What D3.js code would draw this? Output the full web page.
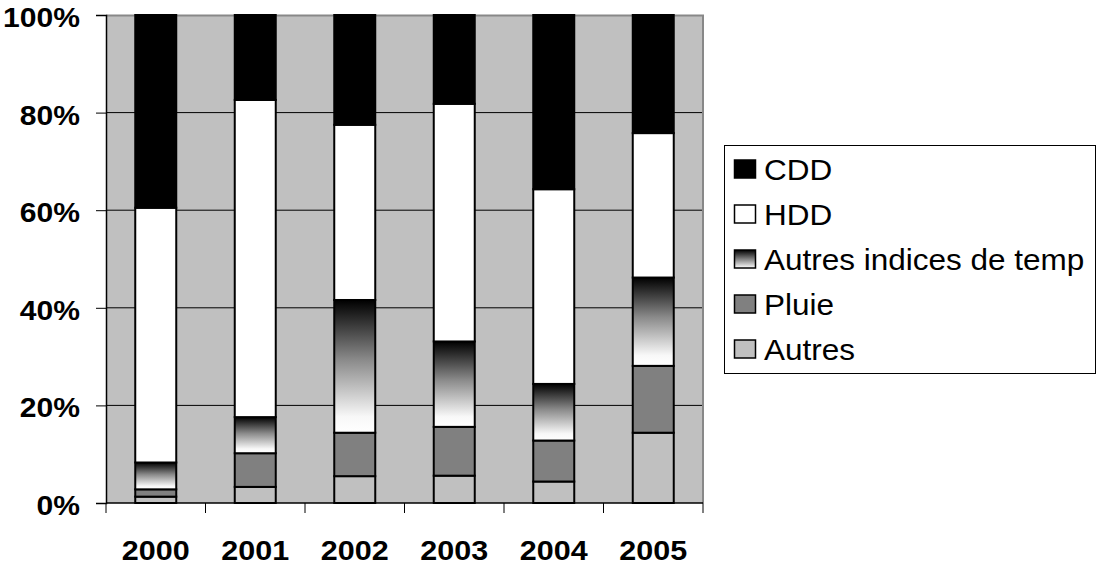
<!DOCTYPE html>
<html><head><meta charset="utf-8">
<script src="https://cdn.jsdelivr.net/npm/d3@7/dist/d3.min.js"></script>
<style>body{margin:0;background:#fff}svg{display:block}text{font-family:"Liberation Sans",Arial,sans-serif}</style>
</head><body><svg id="c" width="1099" height="567"></svg>
<script>
const years = ["2000","2001","2002","2003","2004","2005"];
const seriesNames = ["Autres","Pluie","Autres indices de temp","HDD","CDD"];
const autres = [1.3, 3.3, 5.5, 5.6, 4.4, 14.4];
const pluie = [1.5, 6.9, 8.9, 10.0, 8.4, 13.7];
const autresIndices = [5.5, 7.4, 27.2, 17.5, 11.6, 18.1];
const hdd = [52.2, 65.0, 35.9, 48.7, 39.9, 29.6];
const cdd = [39.5, 17.4, 22.5, 18.2, 35.7, 24.2];
const yTicks = [0, 20, 40, 60, 80, 100];
const legendOrder = ["CDD","HDD","Autres indices de temp","Pluie","Autres"];

const fills = {"Autres":"#c0c0c0","Pluie":"#808080","Autres indices de temp":"url(#grad)","HDD":"#ffffff","CDD":"#000000"};
const values = {"Autres":autres,"Pluie":pluie,"Autres indices de temp":autresIndices,"HDD":hdd,"CDD":cdd};

const svg = d3.select("#c");
const defs = svg.append("defs");
const g1 = defs.append("linearGradient").attr("id","grad").attr("x1",0).attr("y1",0).attr("x2",0).attr("y2",1);
g1.append("stop").attr("offset","0").attr("stop-color","#000");
g1.append("stop").attr("offset","0.45").attr("stop-color","#8a8a8a");
g1.append("stop").attr("offset","0.88").attr("stop-color","#f8f8f8");
g1.append("stop").attr("offset","1").attr("stop-color","#fff");

const L = 106, R = 703, T = 15, B = 503;
const x = d3.scaleBand().domain(years).range([L, R]).paddingInner(0.588).paddingOuter(0.294);
const y = d3.scaleLinear().domain([0, 100]).range([B, T]);

svg.append("rect").attr("x", L).attr("y", T).attr("width", R - L).attr("height", B - T).attr("fill", "#c0c0c0");
svg.append("g").selectAll("line").data(yTicks.filter(v => v > 0 && v < 100)).join("line")
  .attr("x1", L).attr("x2", R).attr("y1", d => y(d)).attr("y2", d => y(d))
  .attr("stroke", "#000").attr("stroke-width", 1);
svg.append("path").attr("d", `M${L},${T + 0.5}H${R}V${B}`).attr("fill", "none").attr("stroke", "#888").attr("stroke-width", 2);

const rows = years.map((yr, i) => { const o = {year: yr}; seriesNames.forEach(s => o[s] = values[s][i]); return o; });
const stack = d3.stack().keys(seriesNames)(rows);
const gBars = svg.append("g");
stack.forEach(layer => {
  gBars.append("g").selectAll("rect").data(layer).join("rect")
    .attr("x", d => x(d.data.year)).attr("width", x.bandwidth())
    .attr("y", d => y(d[1])).attr("height", d => y(d[0]) - y(d[1]))
    .attr("fill", fills[layer.key]).attr("stroke", "#000").attr("stroke-width", 2);
});

const yAxis = d3.axisLeft(y).tickValues(yTicks).tickSize(10).tickFormat("");
const ya = svg.append("g").attr("transform", `translate(${L},0)`).call(yAxis);
ya.select(".domain").attr("stroke", "#000").attr("stroke-width", 1.5);
const xa = svg.append("g").attr("transform", `translate(0,${B})`);
xa.append("line").attr("x1", L).attr("x2", R).attr("stroke", "#000").attr("stroke-width", 1.5);
const bounds = years.map(yr => x(yr) - x.step() * x.paddingInner() / 2).concat([R]);
xa.selectAll("line.t").data(bounds).join("line").attr("class","t")
  .attr("x1", d => d).attr("x2", d => d).attr("y1", 0).attr("y2", 10).attr("stroke", "#000");

function stretchedText(parent, tx, ty, str, size, weight, anchor, sx) {
  parent.append("g").attr("transform", `translate(${tx},${ty}) scale(${sx},1)`)
    .append("text").attr("text-anchor", anchor).attr("font-size", size).attr("font-weight", weight)
    .attr("fill", "#000").text(str);
}
const labels = svg.append("g");
yTicks.forEach(v => stretchedText(labels, 80, y(v) + 12, v + "%", 28, "bold", "end", 1.075));
years.forEach(yr => stretchedText(labels, x(yr) + x.bandwidth() / 2, 560, yr, 28, "bold", "middle", 1.09));

const lg = svg.append("g");
lg.append("rect").attr("x", 724.5).attr("y", 145.5).attr("width", 371).attr("height", 228)
  .attr("fill", "#fff").attr("stroke", "#000").attr("stroke-width", 1);
const lgrad = defs.append("linearGradient").attr("id","lgrad").attr("x1",0).attr("y1",0).attr("x2",0).attr("y2",1);
lgrad.append("stop").attr("offset","0").attr("stop-color","#000");
lgrad.append("stop").attr("offset","1").attr("stop-color","#fff");
legendOrder.forEach((name, i) => {
  const cy = 169 + i * 45;
  lg.append("rect").attr("x", 734.5).attr("y", cy - 9).attr("width", 21).attr("height", 18)
    .attr("fill", name === "Autres indices de temp" ? "url(#lgrad)" : fills[name]).attr("stroke", "#000").attr("stroke-width", 1.5);
  stretchedText(lg, 764, cy + 11, name, 30, "normal", "start", 1.05);
});
</script></body></html>
